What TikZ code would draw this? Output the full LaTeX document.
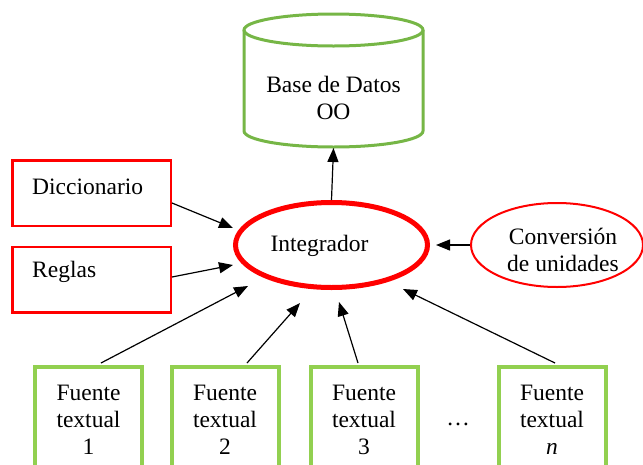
\documentclass[tikz,border=0pt]{standalone}
\usepackage{fontspec}
\setmainfont{Liberation Serif}
\usetikzlibrary{arrows.meta,calc,shapes.geometric}
\definecolor{redc}{RGB}{255,0,0}
\definecolor{greenc}{RGB}{146,208,80}
\definecolor{greendb}{RGB}{118,182,70}
\begin{document}
\begin{tikzpicture}[x=1pt,y=-1pt,
  txt/.style={font=\fontsize{23.5}{27}\selectfont, inner sep=0pt, align=center},
  redbox/.style={draw=redc, line width=2.5pt, minimum width=158.5pt, minimum height=65.5pt, inner sep=0pt},
  greenbox/.style={draw=greenc, line width=4pt, minimum width=107pt, minimum height=140pt, inner sep=0pt, anchor=north},
  dbline/.style={draw=greendb, line width=3pt},
  arr/.style={-{Triangle[length=14pt,width=11pt]}, line width=1.2pt},
]
\useasboundingbox (0,0) rectangle (643,464);

% database cylinder
\draw[dbline] (244,30) -- (244,131) arc[start angle=180, end angle=360, x radius=89.5pt, y radius=16pt] -- (423,30);
\draw[dbline] (333.5,30) ellipse[x radius=89.5pt, y radius=16pt];
\node[txt] (db) at (333.5,98) {Base de Datos\\OO};
\coordinate (dbbot) at (333.5,148);

% red boxes
\node[redbox] (dic) at (91.5,193) {};
\node[txt, anchor=west] (dictxt) at (32,187) {Diccionario};
\node[redbox] (reg) at (91.5,279.5) {};
\node[txt, anchor=west] (regtxt) at (32,272) {Reglas};

% integrador
\node[ellipse, draw=redc, line width=5pt, minimum width=192pt, minimum height=85pt, inner sep=0pt] (int) at (331.5,245) {};
\node[txt] (inttxt) at (319.5,246) {Integrador};

% conversion
\node[ellipse, draw=redc, line width=2pt, minimum width=172pt, minimum height=84pt, inner sep=0pt] (conv) at (557,245) {};
\node[txt] (convtxt) at (563,250) {Conversión\\de unidades};

% sources
\node[greenbox] (f1) at (88.5,365) {};
\node[greenbox] (f2) at (225,365) {};
\node[greenbox] (f3) at (364,365) {};
\node[greenbox] (fn) at (552,365) {};
\node[txt] (f1t) at (88.5,420) {Fuente\\textual\\1};
\node[txt] (f2t) at (225,420) {Fuente\\textual\\2};
\node[txt] (f3t) at (364,420) {Fuente\\textual\\3};
\node[txt] (fnt) at (552,420) {Fuente\\textual\\\textit{n}};
\node[txt] (dots) at (458,424) {…};

% connectors
\draw[arr] (int.north) -- (dbbot);
\draw[arr] ($(dic.east)+(0,10)$) -- ($(int.center)+(-98.5,-17)$);
\draw[arr] ($(reg.east)+(0,-2.5)$) -- ($(int.center)+(-98.5,20)$);
\draw[arr] ($(f1.north)+(12.5,-2)$) -- ($(int.center)+(-83.5,41)$);
\draw[arr] ($(f2.north)+(22,-2)$) -- ($(int.center)+(-31.5,58)$);
\draw[arr] ($(f3.north)+(-6,-2)$) -- ($(int.center)+(7.5,57)$);
\draw[arr] ($(fn.north)+(3,-2)$) -- ($(int.center)+(71.5,44)$);
\draw[arr] (conv.west) -- ($(int.center)+(104.5,0)$);
\end{tikzpicture}
\end{document}
